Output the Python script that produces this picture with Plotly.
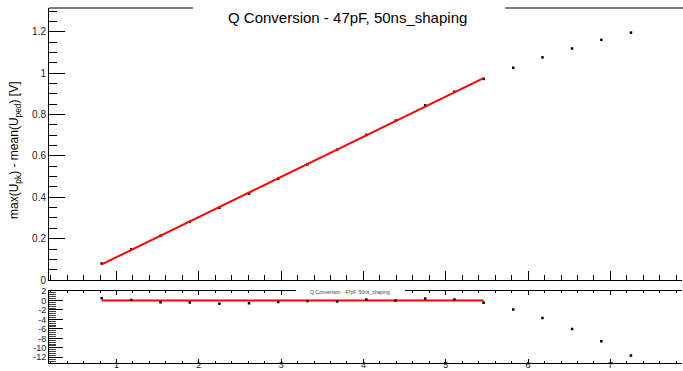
import numpy as np
import plotly.graph_objects as go

# ---- data ----
charge = [0.82, 1.18, 1.535, 1.89, 2.25, 2.61, 2.965, 3.32, 3.68, 4.035,
          4.39, 4.75, 5.105, 5.46, 5.82, 6.175, 6.535, 6.89, 7.25]
amplitude = [0.080, 0.149, 0.214, 0.282, 0.349, 0.418, 0.490, 0.560, 0.630, 0.702,
             0.771, 0.845, 0.911, 0.973, 1.027, 1.077, 1.120, 1.162, 1.197]
residual = [0.45, 0.1, -0.35, -0.45, -0.7, -0.6, -0.3, -0.1, -0.2, 0.2,
            0.0, 0.4, 0.2, -0.5, -1.9, -3.7, -6.0, -8.6, -11.6]
n_fit = 14
title_text = "Q Conversion - 47pF, 50ns_shaping"
ytitle = "max(U<sub>pk</sub>) - mean(U<sub>ped</sub>) [V]"
top_yticks = [0, 0.2, 0.4, 0.6, 0.8, 1, 1.2]
top_yticklabels = ["0", "0.2", "0.4", "0.6", "0.8", "1", "1.2"]
bot_yticks = [2, 0, -2, -4, -6, -8, -10, -12]
bot_yticklabels = ["2", "0", "-2", "-4", "-6", "-8", "-10", "-12"]
xticks = [1, 2, 3, 4, 5, 6, 7]

# linear fit over the first points
p = np.polyfit(charge[:n_fit], amplitude[:n_fit], 1)
fit_x = [charge[0], charge[n_fit - 1]]
fit_y = [float(np.polyval(p, v)) for v in fit_x]

W, H = 683, 371
def px(x):
    return x / W
def py(y):
    return (H - y) / H

XR = [0.18, 7.87]
font = dict(family="Liberation Sans, Arial, sans-serif", color="black")

fig = go.Figure()
fig.add_trace(go.Scatter(x=charge, y=amplitude, mode="markers",
                         marker=dict(symbol="square", size=2.5, color="black"),
                         xaxis="x", yaxis="y", showlegend=False))
fig.add_trace(go.Scatter(x=fit_x, y=fit_y, mode="lines",
                         line=dict(color="red", width=2),
                         xaxis="x", yaxis="y", showlegend=False))
fig.add_trace(go.Scatter(x=fit_x, y=[0, 0], mode="lines",
                         line=dict(color="red", width=2),
                         xaxis="x2", yaxis="y2", showlegend=False))
fig.add_trace(go.Scatter(x=charge, y=residual, mode="markers",
                         marker=dict(symbol="square", size=2.5, color="black"),
                         xaxis="x2", yaxis="y2", showlegend=False))

fig.update_layout(
    width=W, height=H,
    margin=dict(l=0, r=0, t=0, b=0, autoexpand=False),
    paper_bgcolor="white", plot_bgcolor="white",
    font=dict(size=9, **font),
    xaxis=dict(domain=[px(49), px(682)], range=XR, anchor="y", automargin=False,
               showgrid=False, zeroline=False, showline=True, linecolor="black", linewidth=1,
               ticks="inside", ticklen=9, tickwidth=1, tickcolor="black",
               tickvals=xticks, showticklabels=False,
               minor=dict(dtick=0.2, tick0=0, ticks="inside", ticklen=5, tickcolor="black")),
    yaxis=dict(domain=[py(280), py(8)], range=[0, 1.316], anchor="x", automargin=False,
               showgrid=False, zeroline=False, showline=True, linecolor="black", linewidth=1,
               ticks="inside", ticklen=16, tickwidth=1, tickcolor="black",
               tickvals=top_yticks, ticktext=top_yticklabels,
               tickfont=dict(size=10, color="#222"),
               minor=dict(dtick=0.05, tick0=0, ticks="inside", ticklen=8, tickcolor="black")),
    xaxis2=dict(domain=[px(49), px(682)], range=XR, anchor="y2", automargin=False,
                showgrid=False, zeroline=False, showline=True, linecolor="black", linewidth=1,
                mirror="ticks",
                ticks="inside", ticklen=4, tickwidth=1, tickcolor="black",
                tickvals=xticks, tickfont=dict(size=9, color="#222"),
                ticklabelstandoff=-6,
                minor=dict(dtick=0.2, tick0=0, ticks="inside", ticklen=2, tickcolor="black")),
    yaxis2=dict(domain=[py(362.5), py(291)], range=[-13.1, 2.0], anchor="x2", automargin=False,
                showgrid=False, zeroline=False, showline=True, linecolor="black", linewidth=1,
                ticks="inside", ticklen=14, tickwidth=1, tickcolor="black",
                tickvals=bot_yticks, ticktext=bot_yticklabels,
                tickfont=dict(size=9, color="#222"),
                minor=dict(dtick=0.4, tick0=0, ticks="inside", ticklen=7, tickcolor="#444")),
    shapes=[
        # top frame line of upper pad
        dict(type="line", xref="paper", yref="paper", x0=px(49), x1=px(683),
             y0=py(8), y1=py(8), line=dict(color="#555", width=1.5)),
        # title box covering frame line
        dict(type="rect", xref="paper", yref="paper", x0=px(193), x1=px(505),
             y0=py(30), y1=py(0), fillcolor="white", line=dict(width=0)),
        # small title box in lower pad
        dict(type="rect", xref="paper", yref="paper", x0=px(296), x1=px(405),
             y0=py(296), y1=py(287), fillcolor="white", line=dict(width=0)),
    ],
    annotations=[
        dict(text=title_text, xref="paper", yref="paper", x=px(347), y=py(18),
             showarrow=False, font=dict(size=15, color="black"),
             xanchor="center", yanchor="middle"),
        dict(text=title_text, xref="paper", yref="paper", x=px(350), y=py(291.5),
             showarrow=False, font=dict(size=5, color="#444"),
             xanchor="center", yanchor="middle"),
        dict(text=ytitle, xref="paper", yref="paper", x=px(15), y=py(150),
             showarrow=False, textangle=-90, font=dict(size=12, color="black"),
             xanchor="center", yanchor="middle"),
    ],
)

fig.write_html("out.html")
